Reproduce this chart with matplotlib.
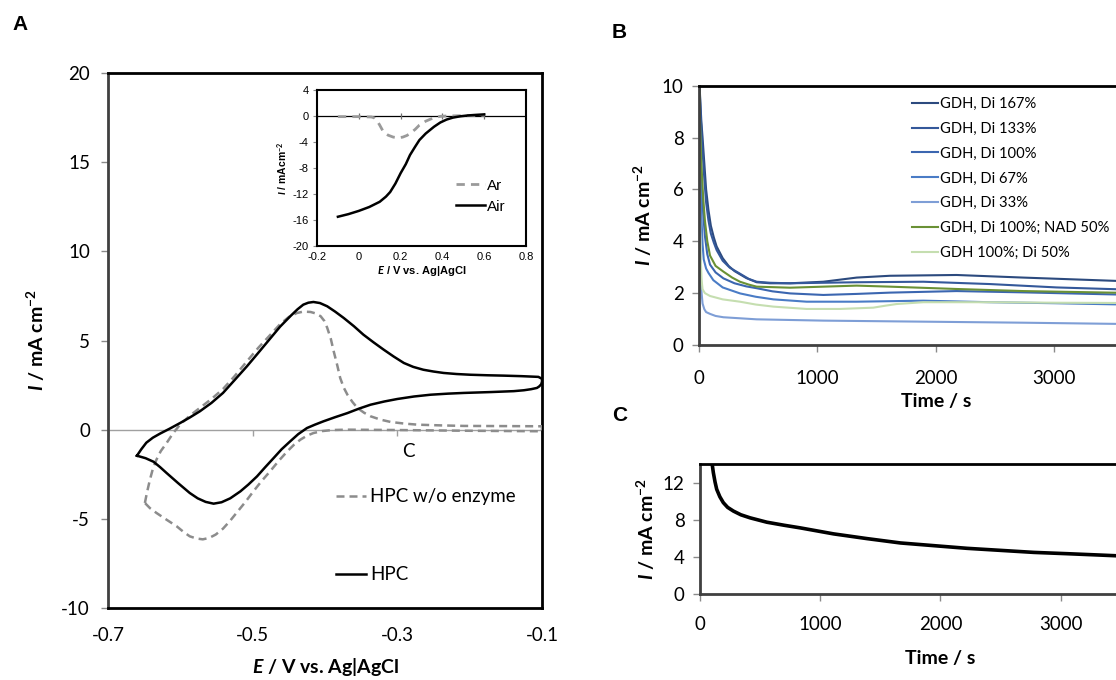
import matplotlib
matplotlib.use("Agg")
import matplotlib.pyplot as plt

plt.rcParams['font.family'] = ['Lato', 'DejaVu Sans']
plt.rcParams['axes.unicode_minus'] = False
plt.rcParams['mathtext.fontset'] = 'custom'
plt.rcParams['mathtext.rm'] = 'Lato'
plt.rcParams['mathtext.it'] = 'Lato:italic'
plt.rcParams['mathtext.bf'] = 'Lato:bold'
plt.rcParams['mathtext.bfit'] = 'Lato:bold:italic'

# ---------------- Panel A data (CV) ----------------
hpc_E = [-0.660, -0.654, -0.647, -0.638, -0.628, -0.615, -0.600, -0.587, -0.573, -0.557,
         -0.541, -0.525, -0.508, -0.492, -0.476, -0.462, -0.448, -0.438, -0.430, -0.423,
         -0.416, -0.407, -0.397, -0.386, -0.374, -0.360, -0.347, -0.333, -0.319, -0.305,
         -0.291, -0.278, -0.264, -0.250, -0.236, -0.218, -0.199, -0.175, -0.153, -0.128,
         -0.105, -0.100, -0.100, -0.101, -0.104, -0.107, -0.115, -0.125, -0.139, -0.170,
         -0.208, -0.230, -0.254, -0.277, -0.300, -0.318, -0.337, -0.353, -0.369, -0.386,
         -0.402, -0.414, -0.425, -0.437, -0.448, -0.460, -0.471, -0.483, -0.494, -0.506,
         -0.517, -0.531, -0.543, -0.554, -0.565, -0.576, -0.587, -0.603, -0.619, -0.628,
         -0.637, -0.648, -0.660]
hpc_I = [-1.46, -1.10, -0.73, -0.45, -0.22, 0.05, 0.38, 0.68, 1.03, 1.50,
         2.06, 2.78, 3.55, 4.32, 5.10, 5.78, 6.36, 6.75, 7.01, 7.12,
         7.16, 7.10, 6.92, 6.62, 6.26, 5.80, 5.33, 4.90, 4.49, 4.10,
         3.74, 3.52, 3.36, 3.26, 3.18, 3.12, 3.08, 3.05, 3.03, 3.00,
         2.96, 2.85, 2.70, 2.55, 2.42, 2.34, 2.27, 2.21, 2.16, 2.11,
         2.06, 2.02, 1.96, 1.86, 1.72, 1.58, 1.40, 1.18, 0.93, 0.70,
         0.47, 0.28, 0.09, -0.25, -0.65, -1.10, -1.59, -2.12, -2.62, -3.08,
         -3.46, -3.85, -4.07, -4.15, -4.05, -3.85, -3.55, -3.00, -2.43, -2.10,
         -1.80, -1.60, -1.46]

noenz_E = [-0.649, -0.646, -0.642, -0.638, -0.633, -0.627, -0.619, -0.610, -0.600, -0.587,
           -0.573, -0.557, -0.541, -0.525, -0.508, -0.492, -0.476, -0.462, -0.450, -0.439,
           -0.430, -0.420, -0.413, -0.406, -0.401, -0.397, -0.392, -0.388, -0.383, -0.379,
           -0.374, -0.369, -0.362, -0.355, -0.346, -0.337, -0.323, -0.309, -0.290, -0.272,
           -0.240, -0.208, -0.150, -0.100, -0.100, -0.208, -0.300, -0.369, -0.390, -0.404,
           -0.416, -0.425, -0.434, -0.443, -0.452, -0.464, -0.476, -0.488, -0.499, -0.510,
           -0.521, -0.531, -0.541, -0.551, -0.560, -0.569, -0.578, -0.587, -0.596, -0.605,
           -0.619, -0.633, -0.642, -0.649]
noenz_I = [-4.11, -3.50, -2.80, -2.20, -1.68, -1.20, -0.75, -0.20, 0.30, 0.78,
           1.22, 1.72, 2.28, 3.00, 3.83, 4.60, 5.30, 5.92, 6.32, 6.54,
           6.62, 6.60, 6.52, 6.36, 6.10, 5.72, 5.10, 4.40, 3.60, 2.90,
           2.35, 1.96, 1.55, 1.21, 0.95, 0.75, 0.56, 0.43, 0.34, 0.28,
           0.24, 0.21, 0.20, 0.19, -0.09, -0.06, -0.02, 0.00, -0.02, -0.08,
           -0.19, -0.34, -0.56, -0.85, -1.21, -1.75, -2.34, -2.90, -3.46, -4.05,
           -4.60, -5.10, -5.55, -5.88, -6.07, -6.15, -6.10, -5.98, -5.72, -5.42,
           -5.05, -4.67, -4.40, -4.11]

a_xticks = [-0.7, -0.5, -0.3, -0.1]
a_yticks = [-10, -5, 0, 5, 10, 15, 20]

# ---------------- Inset data (LSV) ----------------
air_E = [-0.10, -0.05, 0.00, 0.05, 0.10, 0.13, 0.15, 0.175, 0.20, 0.225, 0.245,
         0.27, 0.29, 0.32, 0.36, 0.39, 0.42, 0.45, 0.485, 0.52, 0.55, 0.60]
air_I = [-15.5, -15.1, -14.6, -14.0, -13.2, -12.4, -11.7, -10.4, -8.8, -7.4, -6.0,
         -4.7, -3.7, -2.7, -1.65, -1.0, -0.55, -0.25, -0.05, 0.08, 0.15, 0.25]
ar_E = [-0.10, 0.00, 0.06, 0.075, 0.085, 0.10, 0.117, 0.14, 0.165, 0.19, 0.21,
        0.23, 0.245, 0.27, 0.29, 0.32, 0.36, 0.39, 0.42, 0.50, 0.60]
ar_I = [-0.1, -0.1, -0.15, -0.3, -0.6, -1.4, -2.4, -2.95, -3.25, -3.35, -3.25,
        -3.0, -2.7, -2.05, -1.4, -0.8, -0.25, -0.05, 0.0, 0.05, 0.1]
in_xticks = [-0.2, 0, 0.2, 0.4, 0.6, 0.8]
in_xticklabels = ["-0.2", "0", "0.2", "0.4", "0.6", "0.8"]
in_yticks = [-20, -16, -12, -8, -4, 0, 4]

# ---------------- Panel B data (chronoamperometry) ----------------
b_labels = ["GDH, Di 167%", "GDH, Di 133%", "GDH, Di 100%", "GDH, Di 67%",
            "GDH, Di 33%", "GDH, Di 100%; NAD 50%", "GDH 100%; Di 50%"]
b_colors = ["#2C4A7E", "#34589A", "#3B66B0", "#4A7CC6", "#7E9ED6", "#6A9135", "#C5DEB0"]
t167 = [0, 10, 20, 30, 45, 60, 80, 100, 125, 149, 200, 250, 300, 400, 487, 600, 769,
        1050, 1332, 1613, 2176, 2739, 3600]
i167 = [10.5, 9.5, 8.6, 8.0, 7.0, 6.0, 5.2, 4.6, 4.15, 3.8, 3.35, 3.05, 2.85, 2.58, 2.42,
        2.38, 2.38, 2.44, 2.60, 2.67, 2.70, 2.60, 2.46]
t133 = [0, 15, 30, 45, 60, 80, 100, 125, 149, 200, 260, 346, 420, 487, 600, 769, 1332,
        1895, 2458, 3021, 3600]
i133 = [10.5, 8.8, 7.5, 6.4, 5.5, 4.8, 4.3, 3.95, 3.66, 3.25, 2.98, 2.75, 2.55, 2.44,
        2.40, 2.38, 2.42, 2.44, 2.35, 2.22, 2.14]
t100 = [0, 10, 20, 35, 50, 70, 93, 140, 206, 300, 400, 487, 620, 769, 1050, 1332, 1613,
        2176, 2739, 3600]
i100 = [10.5, 8.2, 6.5, 5.1, 4.2, 3.5, 3.1, 2.8, 2.57, 2.38, 2.26, 2.19, 2.07, 1.99,
        1.93, 1.97, 2.02, 2.08, 2.03, 1.94]
t67 = [0, 8, 20, 30, 40, 60, 80, 121, 200, 346, 480, 628, 909, 1332, 1895, 2458, 3021, 3600]
i67 = [10.5, 7.5, 5.0, 3.9, 3.3, 2.95, 2.78, 2.5, 2.22, 1.99, 1.86, 1.76, 1.67, 1.67,
       1.71, 1.65, 1.61, 1.56]
t33 = [0, 5, 10, 15, 22, 30, 45, 60, 93, 140, 206, 487, 1050, 1895, 2739, 3600]
i33 = [10.5, 6.0, 4.0, 2.8, 2.0, 1.6, 1.38, 1.27, 1.20, 1.12, 1.07, 0.99, 0.94, 0.90,
       0.86, 0.81]
tnad = [0, 10, 20, 35, 50, 70, 93, 140, 206, 280, 346, 420, 487, 769, 1050, 1332, 1613,
        2176, 2739, 3600]
inad = [10.5, 8.4, 7.0, 5.7, 4.8, 4.0, 3.45, 3.05, 2.83, 2.6, 2.44, 2.33, 2.25, 2.21,
        2.25, 2.29, 2.25, 2.16, 2.08, 2.01]
tdi50 = [0, 5, 10, 15, 22, 30, 50, 93, 200, 346, 480, 628, 909, 1191, 1472, 1580, 1669,
         1895, 2458, 3021, 3600]
idi50 = [10.5, 6.5, 4.5, 3.3, 2.5, 2.15, 2.0, 1.89, 1.76, 1.67, 1.56, 1.48, 1.39, 1.39,
         1.44, 1.52, 1.58, 1.65, 1.65, 1.63, 1.62]
b_xticks = [0, 1000, 2000, 3000]
b_yticks = [0, 2, 4, 6, 8, 10]

# ---------------- Panel C data ----------------
c_t = [80, 95, 111, 125, 139, 165, 194, 230, 278, 340, 417, 556, 700, 833, 1111, 1389,
       1667, 1944, 2222, 2500, 2778, 3056, 3333, 3600]
c_i = [16.0, 14.6, 13.1, 12.1, 11.3, 10.5, 9.86, 9.35, 8.95, 8.55, 8.22, 7.75, 7.42,
       7.14, 6.49, 5.98, 5.51, 5.22, 4.93, 4.71, 4.49, 4.35, 4.20, 4.05]
c_xticks = [0, 1000, 2000, 3000]
c_yticks = [0, 4, 8, 12]

W, H = 1116, 680
fig = plt.figure(figsize=(W / 100, H / 100), dpi=100)

def frac(l, t, r, b):
    return [l / W, 1 - b / H, (r - l) / W, (b - t) / H]

tick_gray = "#8a8a8a"
lab_fs = 13.5
arial = ['Liberation Sans', 'DejaVu Sans']
ylab = r"$\mathbfit{I}$ / mA cm$^{\mathbf{-2}}$"

# ---------------- Panel A ----------------
axA = fig.add_axes(frac(108, 73, 542, 608))
axA.set_xlim(-0.7, -0.1)
axA.set_ylim(-10, 20)
axA.axhline(0, color="#a0a0a0", lw=1.0, zorder=1)
axA.vlines(a_xticks, -0.35, 0, color="#a0a0a0", lw=1.0, zorder=1)
axA.plot(noenz_E, noenz_I, color="#8c8c8c", lw=1.8, dashes=(3.2, 2.0),
         label="HPC w/o enzyme", zorder=3)
axA.plot(hpc_E, hpc_I, color="black", lw=1.8, label="HPC", zorder=4)
axA.set_xticks(a_xticks)
axA.set_xticklabels([f"{v:.1f}" for v in a_xticks])
axA.set_yticks(a_yticks)
axA.tick_params(axis='x', length=0, pad=14, labelsize=lab_fs)
axA.tick_params(axis='y', length=5, color=tick_gray, width=1, pad=8, labelsize=lab_fs)
for s in axA.spines.values():
    s.set_linewidth(2.0)
    s.set_color("black")
axA.spines['left'].set_color("#404040")
axA.set_xlabel(r"$\mathbfit{E}$ / V vs. Ag|AgCl", fontsize=14, fontweight='bold', labelpad=8)
axA.set_ylabel(ylab, fontsize=14, fontweight='bold', labelpad=10)
axA.text(-0.285, -1.25, "C", fontsize=lab_fs, ha='center', va='center')
axA.legend(loc='upper left', bbox_to_anchor=(0.509, 0.238), frameon=False,
           fontsize=lab_fs, handlelength=1.6, handletextpad=0.2, labelspacing=3.25,
           borderaxespad=0)

# ---------------- Inset ----------------
axI = fig.add_axes(frac(317, 90, 526, 246))
axI.set_xlim(-0.2, 0.8)
axI.set_ylim(-20, 4)
axI.axhline(0, color="black", lw=0.9, zorder=1)
axI.vlines(in_xticks, -0.5, 0.5, color="#707070", lw=0.9, zorder=1)
axI.plot(ar_E, ar_I, color="#9a9a9a", lw=2.0, dashes=(3.0, 2.2), label="Ar", zorder=3)
axI.plot(air_E, air_I, color="black", lw=1.8, label="Air", zorder=4)
axI.set_xticks(in_xticks)
axI.set_xticklabels(in_xticklabels)
axI.set_yticks(in_yticks)
axI.tick_params(axis='x', length=0, pad=4, labelsize=8)
axI.tick_params(axis='y', length=3, color=tick_gray, pad=3, labelsize=8)
for lab in axI.get_xticklabels() + axI.get_yticklabels():
    lab.set_fontfamily(arial)
for s in axI.spines.values():
    s.set_linewidth(1.5)
    s.set_color("black")
axI.set_xlabel(r"$\mathbfit{E}$ / V vs. Ag|AgCl", fontsize=8, fontweight='bold',
               labelpad=2, fontfamily=arial)
axI.set_ylabel(r"$\mathbfit{I}$ / mAcm$^{\mathbf{-2}}$", fontsize=7.5, fontweight='bold',
               labelpad=2, fontfamily=arial)
axI.legend(loc='upper left', bbox_to_anchor=(0.635, 0.47), frameon=False,
           handlelength=1.9, handletextpad=0.15, labelspacing=0.45, borderaxespad=0,
           prop={'family': arial, 'size': 11})

# ---------------- Panel B ----------------
axB = fig.add_axes(frac(699, 85.7, 699 + 4000 * 0.1184, 345))
axB.set_xlim(0, 4000)
axB.set_ylim(0, 10)
b_series = [(t167, i167), (t133, i133), (t100, i100), (t67, i67), (t33, i33),
            (tnad, inad), (tdi50, idi50)]
for (tt, ii), lab, col in zip(b_series, b_labels, b_colors):
    axB.plot(tt, ii, color=col, lw=1.5, label=lab)
axB.set_xticks(b_xticks)
axB.set_yticks(b_yticks)
axB.tick_params(axis='both', length=5, color=tick_gray, width=1, labelsize=lab_fs)
axB.tick_params(axis='y', pad=6)
axB.tick_params(axis='x', pad=13)
for s in axB.spines.values():
    s.set_linewidth(2.0)
    s.set_color("black")
axB.spines['left'].set_color("#404040")
axB.spines['bottom'].set_color("#404040")
axB.set_xlabel("Time / s", fontsize=14, fontweight='bold', labelpad=4)
axB.set_ylabel(ylab, fontsize=14, fontweight='bold', labelpad=6)
axB.legend(loc='upper left', bbox_to_anchor=(0.437, 0.98), frameon=False, fontsize=10.6,
           handlelength=1.8, handletextpad=0.1, labelspacing=0.74, borderaxespad=0)

# ---------------- Panel C ----------------
axC = fig.add_axes(frac(700, 464.3, 700 + 4000 * 0.1202, 594))
axC.set_xlim(0, 4000)
axC.set_ylim(0, 14)
axC.plot(c_t, c_i, color="black", lw=2.6)
axC.set_xticks(c_xticks)
axC.set_yticks(c_yticks)
axC.tick_params(axis='both', length=5, color=tick_gray, width=1, labelsize=lab_fs)
axC.tick_params(axis='x', pad=11)
axC.tick_params(axis='y', pad=6)
for s in axC.spines.values():
    s.set_linewidth(2.0)
    s.set_color("black")
axC.spines['left'].set_color("#404040")
axC.spines['bottom'].set_color("#404040")
axC.set_xlabel("Time / s", fontsize=14, fontweight='bold', labelpad=12)
axC.set_ylabel(ylab, fontsize=14, fontweight='bold', labelpad=4)

# ---------------- Panel letters ----------------
for x, y, s in [(12, 24, "A"), (612, 33, "B"), (612, 415, "C")]:
    fig.text(x / W, 1 - y / H, s, fontsize=15, fontweight='bold',
             fontfamily=arial, va='center', ha='left')

fig.savefig("out.png", dpi=100)
